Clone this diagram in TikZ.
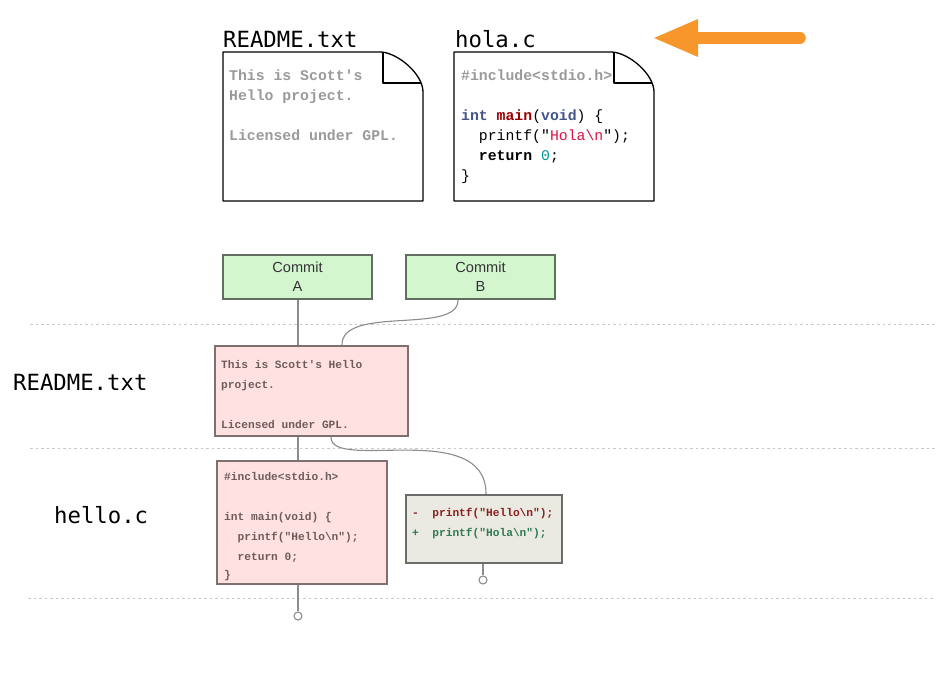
\documentclass[tikz,border=0pt]{standalone}
\usepackage{fontspec}
\setmainfont{Liberation Sans}
\newfontfamily\titlefont{DejaVu Sans Mono}
\newfontfamily\codefont{Liberation Mono}
\usetikzlibrary{arrows.meta}

\definecolor{wire}{HTML}{8C8C8C}
\definecolor{rule}{HTML}{C8C8C8}
\definecolor{commitfill}{HTML}{D3F6CF}
\definecolor{commitline}{HTML}{626E60}
\definecolor{blobfill}{HTML}{FFE1E1}
\definecolor{blobline}{HTML}{7E7070}
\definecolor{blobtext}{HTML}{6E5C5C}
\definecolor{difffill}{HTML}{EAE9E2}
\definecolor{diffline}{HTML}{6E6B6B}
\definecolor{delred}{HTML}{8A1F1F}
\definecolor{addgreen}{HTML}{2E7A55}
\definecolor{pale}{HTML}{9A9A9A}
\definecolor{kwtype}{HTML}{445588}
\definecolor{kwfunc}{HTML}{990000}
\definecolor{strred}{HTML}{DD1144}
\definecolor{numteal}{HTML}{009999}
\definecolor{accent}{HTML}{F7962B}

\tikzset{
  filetitle/.style={anchor=base west, inner sep=0pt, font=\titlefont\fontsize{22.3}{26}\selectfont},
  doctext/.style={anchor=base west, inner sep=0pt, font=\codefont\bfseries\fontsize{14.8}{20}\selectfont},
  docplain/.style={doctext, font=\codefont\fontsize{14.8}{20}\selectfont},
  blobtxt/.style={anchor=base west, inner sep=0pt, text=blobtext, font=\codefont\bfseries\fontsize{11.2}{20}\selectfont},
  docpage/.style={draw=black, line width=1.3pt, fill=white, line join=round},
  commitbox/.style={draw=commitline, fill=commitfill, line width=2.4pt, minimum width=149pt, minimum height=44pt, inner sep=0pt, align=center, text=black!80, font=\fontsize{14.6}{19}\selectfont},
  blobbox/.style={draw=blobline, fill=blobfill, line width=2.4pt},
  diffbox/.style={draw=diffline, fill=difffill, line width=2.4pt},
  wireline/.style={draw=wire, line width=1.1pt},
  lane/.style={draw=rule, line width=0.8pt, dash pattern=on 2.5pt off 3pt},
  endcap/.style={circle, draw=wire, fill=white, line width=1.1pt, minimum size=8pt, inner sep=0pt},
}

\begin{document}
\begin{tikzpicture}[x=1pt,y=-1pt]
\useasboundingbox (0,0) rectangle (945,691);

% ---- working-copy files ----
\node[filetitle] (t1) at (223,47) {README.txt};
\node[filetitle] (t2) at (455,47) {hola.c};

\draw[docpage] (223,52) -- (381,52) .. controls (398,53) and (423,74) .. (423,92) -- (423,201) -- (223,201) -- cycle;
\draw[docpage] (383,52) -- (383,83) -- (421,83);
\draw[docpage] (454,52) -- (612,52) .. controls (629,53) and (654,74) .. (654,92) -- (654,201) -- (454,201) -- cycle;
\draw[docpage] (614,52) -- (614,83) -- (652,83);

\node[doctext, text=pale] (r1) at (229,80) {This is Scott's};
\node[doctext, text=pale] (r2) at (229,100) {Hello project.};
\node[doctext, text=pale] (r3) at (229,140) {Licensed under GPL.};

\node[doctext, text=pale] (h1) at (461,80) {\#include<stdio.h>};
\node[doctext] (h2) at (461,120) {\textcolor{kwtype}{int} \textcolor{kwfunc}{main}\mdseries(\bfseries\textcolor{kwtype}{void}\mdseries) \{};
\node[docplain] (h3) at (461,140) {\ \ printf("\textcolor{strred}{Hola\textbackslash n}");};
\node[doctext] (h4) at (461,160) {\ \ return \mdseries\textcolor{numteal}{0};};
\node[docplain] (h5) at (461,180) {\}};

% ---- arrow ----
\coordinate (arrtail) at (800,38);
\coordinate (arrtip) at (652,38);
\draw[accent, line width=11.5pt, line cap=round, -{Triangle[length=46pt,width=34pt]}] (arrtail) -- (arrtip);

% ---- lanes ----
\coordinate (l1a) at (30,324); \coordinate (l1b) at (935,324);
\coordinate (l2a) at (30,448); \coordinate (l2b) at (935,448);
\coordinate (l3a) at (28,598); \coordinate (l3b) at (935,598);
\draw[lane] (l1a) -- (l1b);
\draw[lane] (l2a) -- (l2b);
\draw[lane] (l3a) -- (l3b);

\node[filetitle] (lab1) at (13,390) {README.txt};
\node[filetitle] (lab2) at (54,523) {hello.c};

% ---- commits ----
\node[commitbox] (ca) at (297.5,277) {Commit\\A};
\node[commitbox] (cb) at (480.5,277) {Commit\\B};

% ---- blobs ----
\node[blobbox, minimum width=193pt, minimum height=90pt, inner sep=0pt] (readme) at (311.5,391) {};
\node[blobbox, minimum width=170pt, minimum height=123pt, inner sep=0pt] (hello) at (302,522.5) {};
\node[diffbox, minimum width=156pt, minimum height=68pt, inner sep=0pt] (diff) at (484,529) {};

\node[blobtxt] (b1) at (221,368) {This is Scott's Hello};
\node[blobtxt] (b2) at (221,388) {project.};
\node[blobtxt] (b3) at (221,428) {Licensed under GPL.};

\node[blobtxt] (c1) at (224,480) {\#include<stdio.h>};
\node[blobtxt] (c2) at (224,520) {int main(void) \{};
\node[blobtxt] (c3) at (224,540) {\ \ printf("Hello\textbackslash n");};
\node[blobtxt] (c4) at (224,560) {\ \ return 0;};
\node[blobtxt] (c5) at (224,578) {\}};

\node[blobtxt, text=delred] (d1) at (412,516) {-\ \ printf("Hello\textbackslash n");};
\node[blobtxt, text=addgreen] (d2) at (412,536) {+\ \ printf("Hola\textbackslash n");};

% ---- connectors ----
\node[endcap] (endA) at (298,616) {};
\node[endcap] (endB) at (483,580) {};

\draw[wireline] (ca.south -| 298,0) -- (readme.north -| 298,0);
\draw[wireline] (readme.south -| 298,0) -- (hello.north -| 298,0);
\draw[wireline] (hello.south -| 298,0) -- (endA.north);
\draw[wireline] (cb.south -| 458,0) .. controls (458,335) and (342,305) .. (readme.north -| 342,0);
\draw[wireline] (readme.south -| 331,0) .. controls (331,472) and (486,418) .. (diff.north -| 486,0);
\draw[wireline] (diff.south -| 483,0) -- (endB.north);
\end{tikzpicture}
\end{document}
